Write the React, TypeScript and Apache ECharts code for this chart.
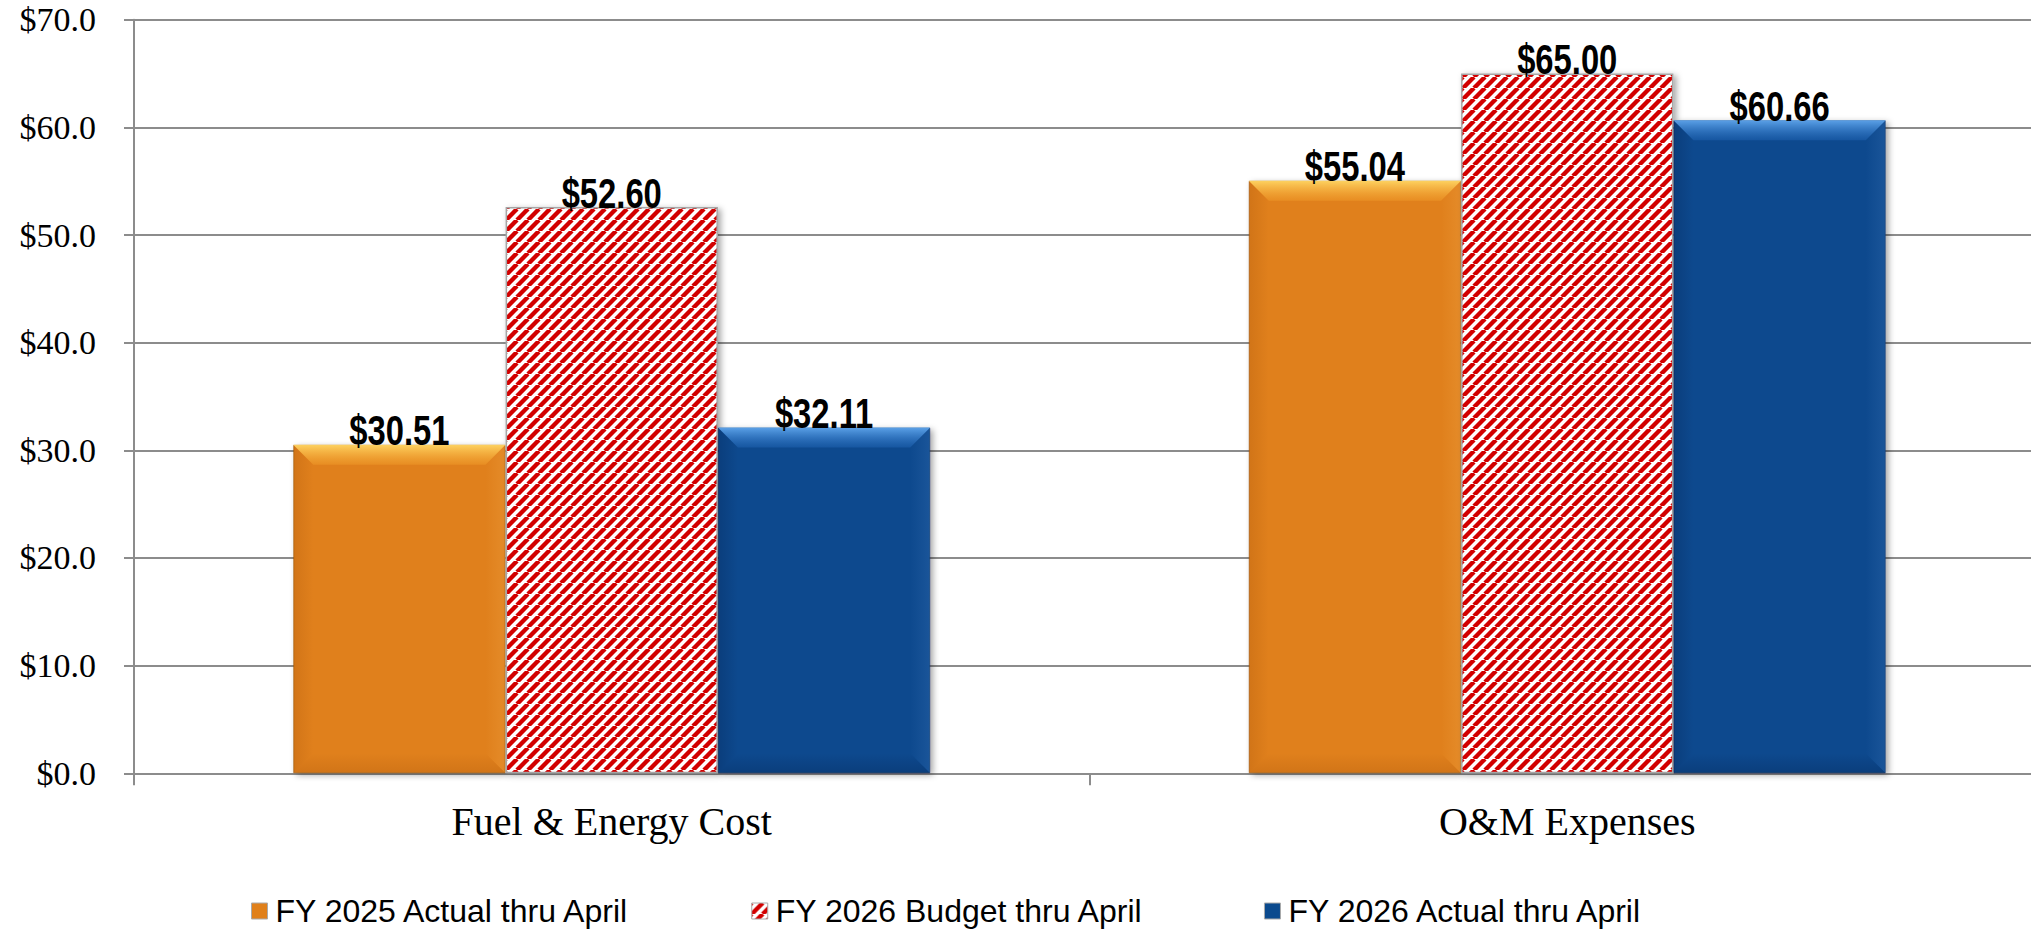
import React, { useEffect, useRef } from "react";
import * as echarts from "echarts";

const categories = ["Fuel & Energy Cost", "O&M Expenses"];
const seriesNames = ["FY 2025 Actual thru April", "FY 2026 Budget thru April", "FY 2026 Actual thru April"];
const fy2025Actual = [30.51, 55.04];
const fy2026Budget = [52.6, 65.0];
const fy2026Actual = [32.11, 60.66];
const yMin = 0;
const yMax = 70;
const yInterval = 10;

const CHART_W = 2045;
const H = 931;
const GRID_TOP = 19.7;
const GRID_BOTTOM = 157.7;
const CAT_GAP = 1 / 3;
const BEVEL = 20;

const ORANGE = {
  main: "#e0801a",
  top0: "rgba(255,214,100,0.95)",
  top1: "rgba(246,166,48,0.35)",
  dark0: "rgba(130,55,0,0.16)",
  dark1: "rgba(130,55,0,0)",
  light0: "rgba(255,200,110,0.16)",
  light1: "rgba(255,200,110,0)",
};
const BLUE = {
  main: "#0b4a8e",
  top0: "rgba(96,166,236,0.95)",
  top1: "rgba(40,112,196,0.35)",
  dark0: "rgba(0,15,50,0.20)",
  dark1: "rgba(0,15,50,0)",
  light0: "rgba(110,160,225,0.14)",
  light1: "rgba(110,160,225,0)",
};

function stripeCanvas() {
  const s = 11;
  const cv = document.createElement("canvas");
  cv.width = s;
  cv.height = s;
  const ctx = cv.getContext("2d")!;
  ctx.fillStyle = "#ffffff";
  ctx.fillRect(0, 0, s, s);
  ctx.strokeStyle = "#d20000";
  ctx.lineWidth = 4.4;
  for (const k of [-s, 0, s]) {
    ctx.beginPath();
    ctx.moveTo(k, s);
    ctx.lineTo(k + s, 0);
    ctx.stroke();
  }
  return cv;
}

function barRect(api: any, idx: number) {
  const cat = api.value(0);
  const val = api.value(1);
  const pt = api.coord([cat, val]);
  const base = api.coord([cat, 0]);
  const band = api.size([1, 0])[0];
  const barW = (band * (1 - CAT_GAP)) / 3;
  const xc = pt[0] + (idx - 1) * barW;
  return { x0: xc - barW / 2, x1: xc + barW / 2, xc, y0: pt[1], y1: base[1], val };
}

function grad(x1: number, y1: number, x2: number, y2: number, c0: string, c1: string) {
  return new echarts.graphic.LinearGradient(x1, y1, x2, y2, [
    { offset: 0, color: c0 },
    { offset: 1, color: c1 },
  ]);
}

function bevelSeries(values: number[], idx: number, c: typeof ORANGE) {
  return {
    type: "custom",
    z: 5,
    silent: true,
    encode: { x: 0, y: 1 },
    data: values.map((v, i) => [i, v]),
    renderItem: (params: any, api: any) => {
      const r = barRect(api, idx);
      const b = Math.min(BEVEL, (r.y1 - r.y0) / 2, (r.x1 - r.x0) / 2);
      const { x0, x1, y0, y1 } = r;
      return {
        type: "group",
        children: [
          {
            type: "polygon",
            shape: { points: [[x0, y0], [x0 + b, y0 + b], [x0 + b, y1 - b], [x0, y1]] },
            style: { fill: grad(0, 0, 1, 0, c.dark0, c.dark1) },
          },
          {
            type: "polygon",
            shape: { points: [[x1, y0], [x1, y1], [x1 - b, y1 - b], [x1 - b, y0 + b]] },
            style: { fill: grad(1, 0, 0, 0, c.light0, c.light1) },
          },
          {
            type: "polygon",
            shape: { points: [[x0, y1], [x0 + b, y1 - b], [x1 - b, y1 - b], [x1, y1]] },
            style: { fill: grad(0, 1, 0, 0, c.dark0, c.dark1) },
          },
          {
            type: "polygon",
            shape: { points: [[x0, y0], [x1, y0], [x1 - b, y0 + b], [x0 + b, y0 + b]] },
            style: { fill: grad(0, 0, 0, 1, c.top0, c.top1) },
          },
        ],
      };
    },
  };
}

function labelSeries(values: number[], idx: number) {
  return {
    type: "custom",
    z: 10,
    silent: true,
    encode: { x: 0, y: 1 },
    data: values.map((v, i) => [i, v]),
    renderItem: (params: any, api: any) => {
      const r = barRect(api, idx);
      return {
        type: "text",
        x: r.xc,
        y: r.y0 + 7,
        scaleX: 0.78,
        style: {
          text: "$" + Number(r.val).toFixed(2),
          fill: "#000",
          font: "bold 42px 'Liberation Sans', Arial, sans-serif",
          align: "center",
          verticalAlign: "bottom",
        },
      };
    },
  };
}

export default function App() {
  const ref = useRef<HTMLDivElement>(null);
  useEffect(() => {
    document.body.style.margin = "0";
    document.body.style.overflow = "hidden";
    const chart = echarts.init(ref.current!, undefined, { renderer: "svg" });
    const stripes = { image: stripeCanvas() as any, repeat: "repeat" as const };
    const shadow = {
      shadowColor: "rgba(0,0,0,0.35)",
      shadowBlur: 6,
      shadowOffsetX: 3,
      shadowOffsetY: 2,
    };
    const gap = (CAT_GAP * 100).toFixed(2) + "%";
    chart.setOption({
      animation: false,
      backgroundColor: "#ffffff",
      grid: { left: 134, right: 0, top: GRID_TOP, bottom: GRID_BOTTOM, containLabel: false },
      legend: {
        left: 246,
        top: 890,
        itemWidth: 16,
        itemHeight: 16,
        itemGap: 120,
        icon: "rect",
        data: seriesNames,
        textStyle: {
          fontFamily: "'Liberation Sans', Arial, sans-serif",
          fontSize: 32,
          lineHeight: 32,
          color: "#000",
          padding: [0, 0, 0, 3],
        },
        itemStyle: { borderColor: "#aaaaaa", borderWidth: 1 },
      },
      xAxis: {
        type: "category",
        data: categories,
        axisLine: { show: true, lineStyle: { color: "#8c8c8c", width: 2 } },
        axisTick: { show: true, length: 12, lineStyle: { color: "#8c8c8c", width: 2 } },
        axisLabel: {
          margin: 28,
          color: "#000",
          fontFamily: "'Liberation Serif', 'Times New Roman', serif",
          fontSize: 40,
        },
      },
      yAxis: {
        type: "value",
        min: yMin,
        max: yMax,
        interval: yInterval,
        axisLine: { show: true, lineStyle: { color: "#8c8c8c", width: 2 } },
        axisTick: { show: true, length: 10, lineStyle: { color: "#8c8c8c", width: 2 } },
        splitLine: { show: true, lineStyle: { color: "#8c8c8c", width: 2 } },
        axisLabel: {
          margin: 38,
          color: "#000",
          fontFamily: "'Liberation Serif', 'Times New Roman', serif",
          fontSize: 34,
          formatter: (v: number) => "$" + v.toFixed(1),
        },
      },
      series: [
        {
          name: seriesNames[0],
          type: "bar",
          barGap: "0%",
          barCategoryGap: gap,
          itemStyle: { color: ORANGE.main, borderColor: "rgba(150,80,0,0.5)", borderWidth: 1, ...shadow },
          data: fy2025Actual,
        },
        {
          name: seriesNames[1],
          type: "bar",
          barGap: "0%",
          barCategoryGap: gap,
          itemStyle: { color: stripes, borderColor: "#a6a6a6", borderWidth: 1.5, ...shadow },
          data: fy2026Budget,
        },
        {
          name: seriesNames[2],
          type: "bar",
          barGap: "0%",
          barCategoryGap: gap,
          itemStyle: { color: BLUE.main, borderColor: "rgba(0,30,80,0.5)", borderWidth: 1, ...shadow },
          data: fy2026Actual,
        },
        bevelSeries(fy2025Actual, 0, ORANGE),
        bevelSeries(fy2026Actual, 2, BLUE),
        labelSeries(fy2025Actual, 0),
        labelSeries(fy2026Budget, 1),
        labelSeries(fy2026Actual, 2),
      ],
    });
    return () => chart.dispose();
  }, []);
  return <div ref={ref} style={{ width: CHART_W, height: H }} />;
}
